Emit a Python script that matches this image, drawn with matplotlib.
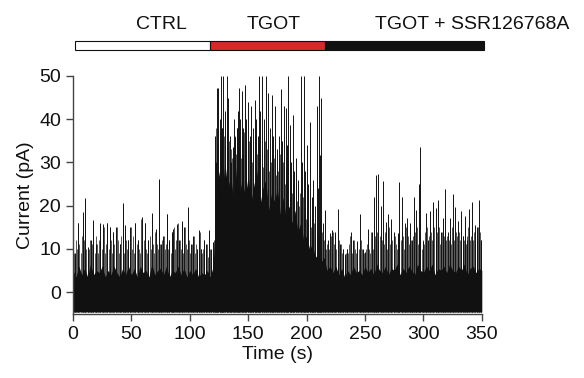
import matplotlib
matplotlib.use("Agg")
import matplotlib.pyplot as plt
from matplotlib.patches import Rectangle
import numpy as np

plt.rcParams['font.family'] = ['Liberation Sans', 'DejaVu Sans']

# ---- data ----
# condition bar: (label, start s, end s)
cond_labels = ["CTRL", "TGOT", "TGOT + SSR126768A"]
cond_start = [2, 117, 216]
cond_end = [117, 216, 352]
cond_colors = ["white", "#d42a2a", "#111111"]
cond_label_x = [76, 172, 342]

# dense (solid) part of the trace: upper edge (pA) every 2.5 s from 0 to 350 s
band_top = [5, 3.5, 6, 4, 5.5, 3.5, 6.5, 4, 5, 4.5,
            6, 3.5, 5, 4, 6, 4.5, 3.5, 5.5, 4, 6,
            4, 5.5, 3.5, 6, 4.5, 5, 3.5, 6.5, 4, 5,
            5.5, 4, 6, 3.5, 5, 4.5, 6, 4, 5.5, 3.5,
            5, 4, 5.5, 3.5, 4.5, 4, 5, 3.5, 6, 20,
            28, 22, 30, 24, 27, 21, 29, 23, 26, 22,
            27, 21, 25, 28, 20, 24, 26, 19, 23, 21,
            24, 18, 22, 17, 20, 16, 19, 14, 16, 12,
            13, 10, 11, 8, 9, 7, 8, 5, 6, 4.5,
            6, 4, 5.5, 3.5, 5, 4, 6, 4.5, 5, 4,
            6, 4.5, 5.5, 4, 6.5, 5, 4.5, 6, 4, 5.5,
            5, 6.5, 4, 5.5, 4.5, 6, 5, 4, 6.5, 5,
            4.5, 6, 5, 6.5, 4, 5.5, 5, 6, 4.5, 6.5,
            5, 4.5, 6, 5, 6.5, 4, 5.5, 6, 4.5, 5.5,
            5]
band_bottom = -4.6

# largest event in each second (pA), per condition
peaks_ctrl = [9, 8, 12, 10, 16, 11, 9, 13, 18, 12,
              21, 10, 9, 10, 12, 8, 11, 16, 9, 13,
              11, 9, 12, 15, 10, 12, 15, 9, 11, 16,
              10, 15, 12, 9, 14, 11, 10, 15, 12, 9,
              11, 13, 20, 9, 15, 12, 10, 12, 9, 15,
              10, 13, 9, 16, 11, 12, 10, 9, 17, 11,
              12, 16, 10, 9, 12, 13, 10, 18, 11, 9,
              14, 11, 10, 26, 11, 9, 12, 13, 10, 11,
              18, 10, 12, 9, 14, 11, 15, 10, 12, 16,
              11, 12, 10, 16, 9, 15, 11, 10, 19, 12,
              9, 11, 10, 13, 9, 11, 10, 9, 14, 10,
              9, 10, 12, 9, 11, 8, 14, 10, 9, 10]
peaks_tgot = [12, 30, 38, 35, 34, 36, 32, 38, 30, 36,
              34, 37, 32, 35, 30, 33, 31, 34, 36, 32,
              38, 33, 36, 31, 35, 32, 37, 34, 30, 33,
              35, 31, 34, 30, 33, 36, 29, 32, 30, 34,
              31, 33, 29, 32, 35, 30, 33, 28, 31, 30,
              32, 29, 31, 27, 30, 28, 29, 32, 26, 30,
              28, 25, 29, 26, 30, 24, 27, 23, 26, 22,
              25, 21, 24, 20, 23, 19, 22, 18, 20, 17,
              19, 16, 18, 15, 17, 14, 16, 13, 15, 14,
              13, 15, 12, 14, 12]
peaks_ssr = [12, 10, 11, 9, 10,
             13, 9, 14, 11, 13, 10, 9, 12, 10, 11,
             9, 10, 8, 9, 10, 9, 11, 13, 9, 10,
             12, 10, 9, 11, 10, 9, 12, 10, 9, 9,
             10, 11, 13, 10, 9, 14, 10, 11, 13, 12,
             14, 12, 13, 10, 12, 13, 11, 14, 10, 12,
             15, 11, 14, 12, 10, 13, 11, 10, 12, 14,
             12, 14, 13, 10, 12, 15, 13, 11, 14, 12,
             10, 13, 14, 12, 15, 11, 14, 13, 10, 12,
             11, 14, 12, 15, 13, 11, 14, 12, 13, 15,
             12, 14, 13, 15, 11, 14, 12, 13, 15, 12,
             13, 12, 14, 11, 15, 13, 12, 14, 13, 11,
             14, 12, 15, 13, 12, 14, 11, 13, 15, 12,
             13, 15, 12, 14, 12, 13, 15, 12, 14, 12]

# large individual events: time (s) and peak current (pA)
spike_t = [2, 4.5, 8.3, 10.3, 13, 15, 17.3, 20, 23, 26, 29, 31.7, 34.5, 37, 40, 42.5, 44.6, 47,
           49, 53, 55.5, 58.7, 61.6, 64, 67.3, 70.7, 73.3, 75, 77, 80.7, 82.5, 84.6, 86, 89, 91,
           93, 95, 98.7, 101, 103, 106, 108, 110, 112, 114, 116.4, 118, 120,
           121.6, 122.5, 123, 124.4, 125.5, 126.4, 127.5, 128.7, 130, 131.5, 133, 134.5, 135.5,
           136.6, 137.5, 138.6, 140, 141, 142.3, 143.3, 144.3, 145.5, 147, 148.5, 150, 151.2,
           152.6, 154, 155.5, 157, 158.3, 159.4, 160.5, 162, 163.5, 165, 167, 168.5, 170, 171.5,
           173, 175, 176.5, 177.7, 179, 180.5, 182, 183.2, 184.3, 185.7, 187, 188, 189.5, 191.3,
           193, 194.8, 196.2, 197.7, 199, 200, 201.5, 203, 204.3, 205.6, 207, 208.5, 209.7, 210.8,
           211.7, 212.6, 214,
           215.6, 218, 220, 222, 224, 227, 229, 231, 233, 235, 237.6, 240, 243.5, 245.6, 248,
           249.9, 252.7, 255.6, 257.8, 259.3, 261, 263.5, 265.6, 267.6, 270, 272, 275, 278, 279.3,
           282, 284, 286, 288.5, 290, 291.8, 294, 296, 297.5, 300, 302.5, 304, 306, 308.3, 310.6,
           312.6, 314.7, 317, 318.3, 321, 323, 325.4, 327, 330, 332, 334, 335.6, 337, 339, 342,
           344, 346, 348, 349.5]
spike_amp = [9, 16, 18.5, 21.7, 10.4, 12, 16.6, 11, 16, 15.8, 16, 15, 14, 15, 11, 20.6, 15.4, 12,
             15, 16, 12, 17.4, 16, 12, 18.3, 14.5, 26.2, 11, 13, 18, 12, 14, 14.6, 15.8, 12,
             16.5, 15, 19.7, 11, 13, 10, 14.4, 10, 12, 11, 14.3, 10, 11.6,
             36, 30, 47.3, 47.3, 40, 50, 38, 50, 42, 50, 45, 36, 30,
             33.5, 40, 35.8, 38, 42, 47.3, 40, 46.5, 38, 48, 40, 44, 36,
             43, 38, 44.4, 40, 36, 50, 42, 50, 40, 50, 46, 38, 45.7, 36,
             43, 33, 36, 47, 35, 43, 42.7, 34, 50, 38.6, 30, 41, 28, 31,
             26, 50, 30, 50, 28, 34, 25, 39.4, 22, 26, 20, 43, 24, 50,
             31.6, 45, 16,
             19, 12, 13.6, 14.4, 14, 19.3, 11, 10, 8.9, 10, 13.9, 12, 11.7, 18, 10,
             9.3, 14.6, 14, 22, 27, 27.3, 20, 25.8, 16.1, 18, 17, 14, 13.6, 25.4,
             22, 16, 17.2, 16, 12, 22, 19, 25, 33.5, 11.7, 18.3, 12, 18.7, 20.8, 19.4,
             21.4, 14, 17.2, 23.9, 13.8, 17.2, 22.7, 19.7, 16.5, 18.7, 13, 17.7, 12, 19.3, 20.8,
             15.4, 15, 21.2, 12]

x_ticks = [0, 50, 100, 150, 200, 250, 300, 350]
y_ticks = [0, 10, 20, 30, 40, 50]

# ---- figure ----
fig = plt.figure(figsize=(5.84, 3.78), dpi=100)
ax = fig.add_axes([0.125, 0.168, 0.700, 0.631])

trace_color = "#111111"
band_t = np.linspace(0, 350, len(band_top))
peaks_all = peaks_ctrl + peaks_tgot + peaks_ssr
peak_t = np.arange(len(peaks_all)) + 0.5
ax.fill_between(band_t, band_bottom, band_top, color=trace_color, linewidth=0)
ax.vlines(peak_t, band_bottom, peaks_all, color=trace_color, linewidth=0.5)
ax.vlines(spike_t, band_bottom, spike_amp, color=trace_color, linewidth=0.7)

ax.set_xlim(0, 350)
ax.set_ylim(-5.2, 50)
ax.set_xticks(x_ticks)
ax.set_yticks(y_ticks)
for s in ["top", "right"]:
    ax.spines[s].set_visible(False)
for s in ["left", "bottom"]:
    ax.spines[s].set_color("#444444")
    ax.spines[s].set_linewidth(1.0)
ax.tick_params(axis="both", colors="#444444", labelcolor="#111111", labelsize=14,
               length=5, width=1.0, direction="out")
ax.set_xlabel("Time (s)", fontsize=14, color="#111111", labelpad=2)
ax.set_ylabel("Current (pA)", fontsize=14, color="#111111", labelpad=4)

# condition bar on top
axb = fig.add_axes([0.125, 0.868, 0.700, 0.024])
axb.set_xlim(0, 350)
axb.set_ylim(0, 1)
axb.axis("off")
for s, e, c in zip(cond_start, cond_end, cond_colors):
    axb.add_patch(Rectangle((s, 0), e - s, 1, facecolor=c, edgecolor="#111111",
                            linewidth=0.8, clip_on=False))
for lab, lx in zip(cond_labels, cond_label_x):
    axb.text(lx, 1.9, lab, ha="center", va="bottom", fontsize=14, color="#111111",
             clip_on=False)

fig.savefig("out.png", dpi=100)
